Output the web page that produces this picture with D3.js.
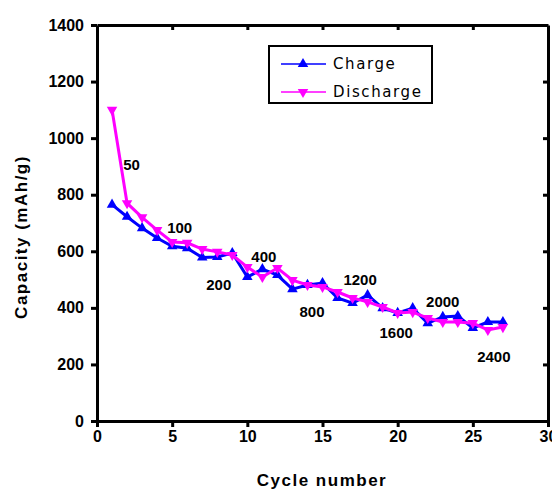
<!DOCTYPE html>
<html>
<head>
<meta charset="utf-8">
<script src="https://cdn.jsdelivr.net/npm/d3@7"></script>
<style>
  body { margin: 0; background: #fff; }
  text { font-family: "Liberation Sans", Arial, sans-serif; }
</style>
</head>
<body>
<div id="chart"></div>
<script>
// Data
var cycles = d3.range(1, 28);
var charge = [765, 722, 682, 647, 618, 611, 578, 580, 594, 509, 537, 516, 466, 481, 488, 435, 417, 445, 399, 382, 399, 346, 368, 371, 329, 350, 350];
var discharge = [1100, 770, 720, 675, 633, 630, 608, 598, 587, 544, 509, 541, 498, 481, 474, 456, 435, 421, 403, 382, 385, 364, 350, 350, 346, 322, 332];
var rateLabels = ["50", "100", "200", "400", "800", "1200", "1600", "2000", "2400"];
var rateX = [2.3, 5.5, 8.1, 11.1, 14.3, 17.5, 19.9, 23.0, 26.4];
var rateY = [905, 682, 481, 580, 385, 498, 311, 421, 226];
var xTicks = [0, 5, 10, 15, 20, 25, 30];
var yTicks = [0, 200, 400, 600, 800, 1000, 1200, 1400];

var svgWidth = 552;
var svgHeight = 490;
var margin = { top: 25, right: 4, bottom: 69, left: 97 };
var width = 548 - margin.left;
var height = 421 - margin.top;

var svg = d3.select("#chart")
  .append("svg")
  .attr("width", svgWidth)
  .attr("height", svgHeight);

var chartGroup = svg.append("g")
  .attr("transform", `translate(${margin.left}, ${margin.top})`);

// Scales
var x = d3.scaleLinear().domain([0, 30]).range([0, width]);
var y = d3.scaleLinear().domain([0, 1400]).range([height, 0]);

// Axes
function styleAxis(g) {
  g.select(".domain").attr("stroke", "#000").attr("stroke-width", 3);
  g.selectAll(".tick line").attr("stroke", "#000").attr("stroke-width", 3);
  g.selectAll(".tick text")
    .attr("fill", "#000")
    .style("font-size", "16px")
    .style("font-weight", "bold");
}

chartGroup.append("g")
  .attr("transform", `translate(0, ${height})`)
  .call(d3.axisBottom(x).tickValues(xTicks).tickFormat(d3.format("d")).tickSize(6).tickSizeOuter(0).tickPadding(4))
  .call(styleAxis);

chartGroup.append("g")
  .call(d3.axisLeft(y).tickValues(yTicks).tickFormat(d3.format("d")).tickSize(6).tickSizeOuter(0).tickPadding(7))
  .call(styleAxis);

chartGroup.append("g")
  .call(d3.axisTop(x).tickValues(xTicks.slice(1, -1)).tickSize(-5).tickSizeOuter(0).tickFormat(""))
  .call(styleAxis);

chartGroup.append("g")
  .attr("transform", `translate(${width}, 0)`)
  .call(d3.axisRight(y).tickValues(yTicks.slice(1, -1)).tickSize(-5).tickSizeOuter(0).tickFormat(""))
  .call(styleAxis);

// Series
var series = [
  { name: "Charge", values: charge, color: "#0000ff", up: true },
  { name: "Discharge", values: discharge, color: "#ff00ff", up: false }
];

var tri = d3.symbol().type(d3.symbolTriangle).size(48);

var line = d3.line()
  .x((d, i) => x(cycles[i]))
  .y(d => y(d));

series.forEach(function(s) {
  chartGroup.append("path")
    .datum(s.values)
    .attr("fill", "none")
    .attr("stroke", s.color)
    .attr("stroke-width", 3)
    .attr("d", line);

  chartGroup.selectAll(null)
    .data(s.values)
    .enter()
    .append("path")
    .attr("d", tri)
    .attr("transform", (d, i) => `translate(${x(cycles[i])}, ${y(d)}) rotate(${s.up ? 0 : 180})`)
    .attr("fill", s.color);
});

// Rate labels
chartGroup.selectAll(".rate")
  .data(rateLabels)
  .enter()
  .append("text")
  .attr("class", "rate")
  .attr("x", (d, i) => x(rateX[i]))
  .attr("y", (d, i) => y(rateY[i]))
  .attr("dy", "0.35em")
  .attr("text-anchor", "middle")
  .style("font-size", "15px")
  .style("font-weight", "bold")
  .text(d => d);

// Legend
var legend = svg.append("g").attr("transform", "translate(269, 46)");
legend.append("rect")
  .attr("width", 163)
  .attr("height", 57)
  .attr("fill", "#fff")
  .attr("stroke", "#000")
  .attr("stroke-width", 2);

series.forEach(function(s, i) {
  var ly = 18 + i * 28;
  legend.append("line")
    .attr("x1", 12).attr("x2", 57)
    .attr("y1", ly).attr("y2", ly)
    .attr("stroke", s.color)
    .attr("stroke-width", 1.5);
  legend.append("path")
    .attr("d", tri)
    .attr("transform", `translate(34, ${ly}) rotate(${s.up ? 0 : 180})`)
    .attr("fill", s.color);
  legend.append("text")
    .attr("x", 64)
    .attr("y", ly)
    .attr("dy", "0.35em")
    .style("font-family", "'DejaVu Sans', sans-serif")
    .style("font-size", "15px")
    .style("letter-spacing", "1.6px")
    .text(s.name);
});

// Axis labels
svg.append("text")
  .attr("transform", "translate(27, 237) rotate(-90)")
  .attr("text-anchor", "middle")
  .style("font-size", "17px")
  .style("font-weight", "bold")
  .style("letter-spacing", "1.5px")
  .text("Capacity (mAh/g)");

svg.append("text")
  .attr("x", 322)
  .attr("y", 486)
  .attr("text-anchor", "middle")
  .style("font-size", "17px")
  .style("font-weight", "bold")
  .style("letter-spacing", "1.5px")
  .text("Cycle number");
</script>
</body>
</html>
